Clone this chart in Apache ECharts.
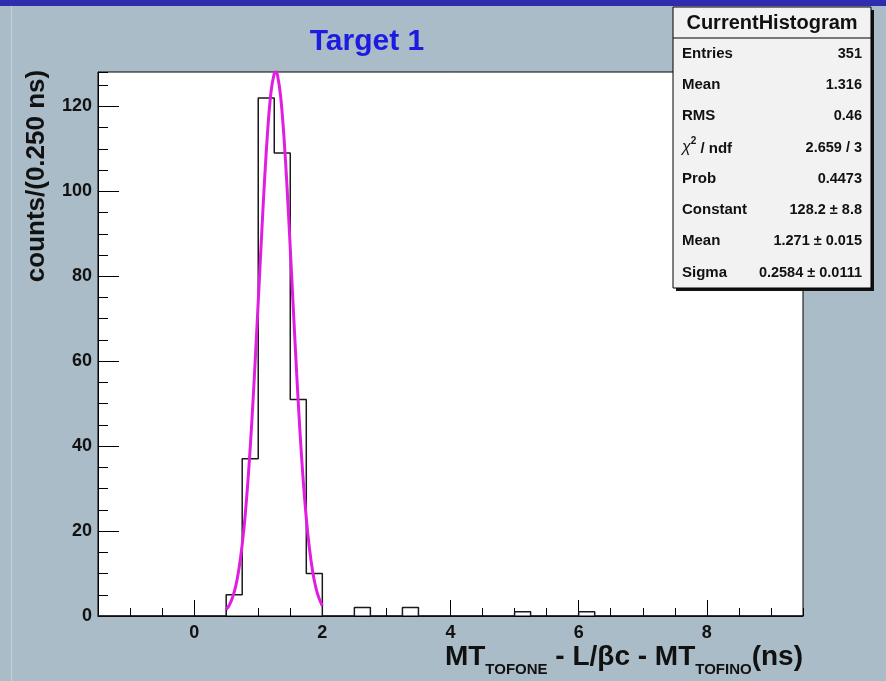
<!DOCTYPE html>
<html>
<head>
<meta charset="utf-8">
<script src="https://cdn.jsdelivr.net/npm/echarts@6/dist/echarts.min.js"></script>
<style>
html,body{margin:0;padding:0;background:#aabcc7;}
#chart{width:886px;height:681px;}
</style>
</head>
<body>
<div id="chart"></div>
<script>
// ---- data ----
const X_MIN = -1.5, X_MAX = 9.5, BIN_WIDTH = 0.25;
const Y_MAX = 128.1;
const binLowEdges = [0.5, 0.75, 1.0, 1.25, 1.5, 1.75, 2.5, 3.25, 5.0, 6.0];
const binCounts   = [5,   37,   122, 109,  51,  10,   2,   2,    1,   1];
const fitX = [0.50,0.55,0.60,0.65,0.70,0.75,0.80,0.85,0.90,0.95,1.00,1.05,1.10,1.15,1.20,1.25,1.27,1.30,1.35,1.40,1.45,1.50,1.55,1.60,1.65,1.70,1.75,1.80,1.85,1.90,1.95,2.00];
const fitY = [1.5,2.6,4.4,7.1,11.2,16.8,24.3,34.0,45.7,59.3,74.0,88.9,103.0,114.9,123.5,127.8,128.2,127.4,122.3,113.2,100.9,86.6,71.6,57.0,43.7,32.3,23.0,15.8,10.4,6.6,4.1,2.4];
const xTickMajor = [0, 8, 2];   // min, max, interval of labelled ticks
const yTickMajor = [0, 120, 20];
const titleText = 'Target 1';
const yTitle = 'counts/(0.250 ns)';
const statsTitle = 'CurrentHistogram';
const statLabels = ['Entries', 'Mean', 'RMS', 'CHI2', 'Prob', 'Constant', 'Mean', 'Sigma'];
const statValues = ['351', '1.316', '0.46', '2.659 / 3', '0.4473', '128.2 ± 8.8', '1.271 ± 0.015', '0.2584 ± 0.0111'];

// ---- build histogram outline ----
const histPoints = [];
const nBins = Math.round((X_MAX - X_MIN) / BIN_WIDTH);
for (let i = 0; i < nBins; i++) {
  const lo = +(X_MIN + i * BIN_WIDTH).toFixed(4);
  const k = binLowEdges.findIndex(v => Math.abs(v - lo) < 1e-6);
  histPoints.push([lo, k >= 0 ? binCounts[k] : 0]);
}
histPoints.push([X_MAX, 0]);
const fitPoints = fitX.map((x, i) => [x, fitY[i]]);

// ---- layout ----
const FONT = '"Liberation Sans", Arial, Helvetica, sans-serif';
const G = {left: 98, top: 72, width: 705, height: 544};
const pxX = G.width / (X_MAX - X_MIN);
const pxY = G.height / Y_MAX;
const g1 = {left: G.left + (xTickMajor[0] - X_MIN) * pxX, top: G.top, width: (xTickMajor[1] - xTickMajor[0]) * pxX, height: G.height};
const g2 = {left: G.left, top: G.top + G.height - yTickMajor[1] * pxY, width: G.width, height: yTickMajor[1] * pxY};

const chart = echarts.init(document.getElementById('chart'), null, {renderer: 'canvas'});

const boxX = 673, boxY = 7, boxW = 198, boxH = 281;
const statsChildren = [
  {type: 'rect', shape: {x: boxX + 3, y: boxY + 3, width: boxW, height: boxH}, style: {fill: '#111'}},
  {type: 'rect', shape: {x: boxX, y: boxY, width: boxW, height: boxH}, style: {fill: '#f2f2f2', stroke: '#000', lineWidth: 1}},
  {type: 'line', shape: {x1: boxX, y1: 38, x2: boxX + boxW, y2: 38}, style: {stroke: '#000', lineWidth: 1}},
  {type: 'text', x: boxX + boxW / 2, y: 23, style: {text: statsTitle, font: 'bold 20px ' + FONT, fill: '#111', align: 'center', verticalAlign: 'middle'}}
];
const rowY = [54, 85, 116, 148, 179, 210, 241, 273];
statLabels.forEach((lab, i) => {
  if (lab === 'CHI2') {
    statsChildren.push({type: 'text', x: 682, y: rowY[i] - 2, style: {
      text: '{c|χ}{s|2}{n| / ndf}', align: 'left', verticalAlign: 'middle',
      rich: {
        c: {font: 'italic 16px ' + FONT, fill: '#111', lineHeight: 20, verticalAlign: 'bottom'},
        s: {font: 'bold 10px ' + FONT, fill: '#111', lineHeight: 20, verticalAlign: 'top'},
        n: {font: 'bold 15px ' + FONT, fill: '#111', lineHeight: 20, verticalAlign: 'bottom'}
      }}});
  } else {
    statsChildren.push({type: 'text', x: 682, y: rowY[i], style: {text: lab, font: 'bold 15px ' + FONT, fill: '#111', align: 'left', verticalAlign: 'middle'}});
  }
  statsChildren.push({type: 'text', x: 862, y: rowY[i], style: {text: statValues[i], font: 'bold 14.5px ' + FONT, fill: '#111', align: 'right', verticalAlign: 'middle'}});
});

const option = {
  backgroundColor: '#aabcc7',
  animation: false,
  grid: [
    {left: G.left, top: G.top, width: G.width, height: G.height, show: true, backgroundColor: '#ffffff', borderColor: '#000', borderWidth: 1, containLabel: false},
    {left: g1.left, top: g1.top, width: g1.width, height: g1.height, containLabel: false},
    {left: g2.left, top: g2.top, width: g2.width, height: g2.height, containLabel: false}
  ],
  xAxis: [
    {gridIndex: 0, type: 'value', min: X_MIN, max: X_MAX, interval: 0.5,
      axisLine: {show: true, onZero: false, lineStyle: {color: '#000', width: 1}},
      axisTick: {show: true, inside: true, length: 8, lineStyle: {color: '#000', width: 1}},
      axisLabel: {show: false}, splitLine: {show: false}},
    {gridIndex: 1, type: 'value', min: xTickMajor[0], max: xTickMajor[1], interval: xTickMajor[2],
      axisLine: {show: false},
      axisTick: {show: true, inside: true, length: 16, lineStyle: {color: '#000', width: 1}},
      axisLabel: {show: true, fontSize: 18, fontWeight: 'bold', color: '#111', fontFamily: FONT, margin: 8},
      splitLine: {show: false}},
    {gridIndex: 2, type: 'value', show: false, min: 0, max: 1}
  ],
  yAxis: [
    {gridIndex: 0, type: 'value', min: 0, max: Y_MAX, interval: 5,
      axisLine: {show: true, onZero: false, lineStyle: {color: '#000', width: 1}},
      axisTick: {show: true, inside: true, length: 10, lineStyle: {color: '#000', width: 1}},
      axisLabel: {show: false}, splitLine: {show: false}},
    {gridIndex: 1, type: 'value', show: false, min: 0, max: 1},
    {gridIndex: 2, type: 'value', min: yTickMajor[0], max: yTickMajor[1], interval: yTickMajor[2],
      axisLine: {show: false},
      axisTick: {show: true, inside: true, length: 21, lineStyle: {color: '#000', width: 1}},
      axisLabel: {show: true, fontSize: 18, fontWeight: 'bold', color: '#111', fontFamily: FONT, margin: 6},
      splitLine: {show: false}}
  ],
  series: [
    {type: 'line', xAxisIndex: 0, yAxisIndex: 0, step: 'end', data: histPoints, symbol: 'none',
      lineStyle: {color: '#1a1a1a', width: 1.5}, z: 3, silent: true},
    {type: 'line', xAxisIndex: 0, yAxisIndex: 0, data: fitPoints, smooth: 0.3, symbol: 'none',
      lineStyle: {color: '#e01ee0', width: 3}, z: 4, silent: true}
  ],
  graphic: [
    {type: 'rect', shape: {x: 0, y: 0, width: 886, height: 6}, style: {fill: '#2f2dae'}, z: 50},
    {type: 'rect', shape: {x: 11, y: 6, width: 1, height: 675}, style: {fill: '#c6d2d9'}, z: 50},
    {type: 'text', x: 367, y: 42, style: {text: titleText, font: 'bold 30px ' + FONT, fill: '#1c1ce0', align: 'center', verticalAlign: 'middle'}, z: 50},
    {type: 'text', x: 37, y: 176, rotation: Math.PI / 2, style: {text: yTitle, font: 'bold 26px ' + FONT, fill: '#111', align: 'center', verticalAlign: 'middle'}, z: 50},
    {type: 'text', x: 803, y: 660, style: {
      text: '{m|MT}{s|TOFONE}{m| - L/βc - MT}{s|TOFINO}{m|(ns)}', align: 'right', verticalAlign: 'middle',
      rich: {
        m: {font: 'bold 28px ' + FONT, fill: '#111', lineHeight: 34, verticalAlign: 'top'},
        s: {font: 'bold 15px ' + FONT, fill: '#111', lineHeight: 18, verticalAlign: 'bottom'}
      }}, z: 50},
    {type: 'group', z: 100, children: statsChildren}
  ]
};
chart.setOption(option);
</script>
</body>
</html>
